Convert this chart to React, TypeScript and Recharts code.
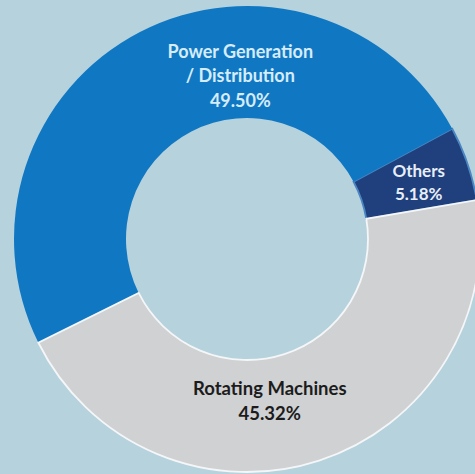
import React from "react";
import { PieChart, Pie, Cell } from "recharts";

const segments = ["Others", "Power Generation / Distribution", "Rotating Machines"];
const shares = [5.18, 49.5, 45.32];
const labelLines = [["Others"], ["Power Generation", "/ Distribution"], ["Rotating Machines"]];

const fills = ["#1f3f7d", "#1078c2", "#cfd1d3"];
const strokes = ["#4a86c2", "none", "#f4f6f8"];
const textColors = ["#e8eef7", "#d6ecfa", "#1c1c1c"];
// nudges so labels sit where the original placed them
const angleShift = [-0.5, -25, -10];
const radiusShift = [4, -13, -14];
const fontSizes = [17, 18, 18.5];

const data = segments.map((name, i) => ({ name, value: shares[i] }));

const RAD = Math.PI / 180;

function renderLabel(props: any) {
  const { cx, cy, midAngle, innerRadius, outerRadius, index } = props;
  const r = (innerRadius + outerRadius) / 2 + radiusShift[index];
  const a = (midAngle + angleShift[index]) * RAD;
  const x = cx + r * Math.cos(a);
  const y = cy - r * Math.sin(a);
  const lines = [...labelLines[index], shares[index].toFixed(2) + "%"];
  const lh = index === 0 ? 23 : 24.5;
  const top = y - ((lines.length - 1) * lh) / 2;
  return (
    <text
      key={index}
      x={x}
      y={top}
      fill={textColors[index]}
      textAnchor="middle"
      dominantBaseline="central"
      fontFamily="Lato, sans-serif"
      fontWeight={700}
      fontSize={fontSizes[index]}
    >
      {lines.map((l, k) => (
        <tspan key={k} x={x} dy={k === 0 ? 0 : lh}>
          {l}
        </tspan>
      ))}
    </text>
  );
}

export default function App() {
  return (
    <div
      style={{
        position: "fixed",
        left: 0,
        top: 0,
        width: 475,
        height: 474,
        overflow: "hidden",
        background: "#b6d2dd",
      }}
    >
      <PieChart width={494} height={478} margin={{ top: 0, right: 0, bottom: 0, left: 0 }}>
        <Pie
          data={data}
          dataKey="value"
          nameKey="name"
          cx={247}
          cy={239}
          innerRadius={121}
          outerRadius={233}
          startAngle={9.6}
          endAngle={369.6}
          strokeWidth={1.8}
          label={renderLabel}
          labelLine={false}
          isAnimationActive={false}
        >
          {data.map((d, i) => (
            <Cell key={d.name} fill={fills[i]} stroke={strokes[i]} />
          ))}
        </Pie>
      </PieChart>
    </div>
  );
}
